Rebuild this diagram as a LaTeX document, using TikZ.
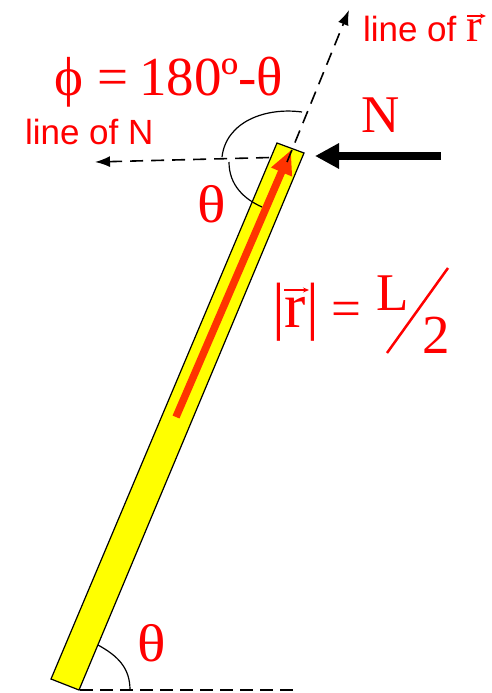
\documentclass[tikz,border=0pt]{standalone}
\usepackage{fontspec}
\usepackage{graphicx}
\setmainfont{Liberation Serif}
\newfontfamily\labsans{Liberation Sans}
\usetikzlibrary{arrows.meta}
\definecolor{barY}{RGB}{255,255,0}
\definecolor{arrR}{RGB}{255,51,0}
\begin{document}
\begin{tikzpicture}[x=1pt,y=-1pt,
  redtxt/.style={text=red, inner sep=0pt, outer sep=0pt, anchor=base west},
  big/.style={redtxt, font=\fontsize{53}{53}\selectfont},
  huge/.style={redtxt, font=\fontsize{55}{55}\selectfont},
  lab/.style={redtxt, font=\labsans\fontsize{35}{35}\selectfont},
  guide/.style={dash pattern=on 13pt off 8pt, line width=1.6pt, -{Latex[length=15pt,width=11pt]}},
  vecarrow/.style={red, line width=1.4pt, -{Stealth[length=6pt,width=5pt]}},
  anglearc/.style={line width=1.2pt}]
\useasboundingbox (0,0) rectangle (492,693);
% key points
\coordinate (bl) at (51,679);
\coordinate (tl) at (277,143);
\coordinate (tr) at (304,153);
\coordinate (br) at (79,690);
\coordinate (top) at (290,157);
\coordinate (nEnd) at (95,162);
\coordinate (rStart) at (287,162);
\coordinate (rEnd) at (349,10);
\coordinate (aTail) at (176,417);
\coordinate (aTip) at (291,150);
\coordinate (NStart) at (441,156);
\coordinate (NTip) at (315,156);
% line of N (behind bar)
\draw[guide] (top) -- (nEnd);
% bar
\draw[fill=barY, line width=1.2pt] (bl) -- (tl) -- (tr) -- (br) -- cycle;
% red r arrow
\draw[arrR, line width=7.5pt, -{Triangle[length=24pt,width=21pt]}] (aTail) -- (aTip);
% line of r
\draw[guide] (rStart) -- (rEnd);
% N force
\draw[line width=8pt, -{Triangle[length=24pt,width=24pt]}] (NStart) -- (NTip);
% angle arcs
\coordinate (p1) at (302,112);
\coordinate (p2) at (222,157);
\coordinate (p3) at (229,162);
\coordinate (p4) at (262,207);
\draw[anglearc] (p1) .. controls (265,107) and (226,122) .. (p2);
\draw[anglearc] (p3) .. controls (229,185) and (244,199) .. (p4);
\coordinate (q1) at (98,645);
\coordinate (q2) at (130,690);
\draw[anglearc] (q1) .. controls (118,656) and (130,668) .. (q2);
% ground dashed line
\coordinate (g1) at (80,690);
\coordinate (g2) at (297,690);
\draw[dash pattern=on 13pt off 7pt, line width=1.8pt] (g1) -- (g2);
% labels
\node[lab] (labN) at (25,144) {line of N};
\node[lab] (labR) at (363,42) {line of {\rmfamily\fontsize{47}{47}\selectfont r}};
\node[huge] (phi) at (54,95) {ϕ};
\node[huge] (eq1) at (97,95) {=};
\node[huge] (ang) at (139,95) {180º-θ};
\node[big] (Nlab) at (361,132) {N};
\node[big] (th1) at (197,222) {\scalebox{1.12}[1]{θ}};
\node[big] (th2) at (137,661) {\scalebox{1.12}[1]{θ}};
\node[redtxt, font=\fontsize{64}{64}\selectfont] (absr) at (272,327) {|r|};
\node[big] (eq2) at (331,326) {=};
\node[big] (Lt) at (376,310) {L};
\node[redtxt, font=\fontsize{55}{55}\selectfont] (two) at (422,353) {2};
% vector arrows over r
\coordinate (v1a) at (467,16);
\coordinate (v1b) at (486,16);
\draw[vecarrow] (v1a) -- (v1b);
\coordinate (v2a) at (284,290);
\coordinate (v2b) at (309,290);
\draw[vecarrow] (v2a) -- (v2b);
% fraction slash
\coordinate (s1) at (448,268);
\coordinate (s2) at (387,353);
\draw[red, line width=2.5pt] (s1) -- (s2);
\end{tikzpicture}
\end{document}
